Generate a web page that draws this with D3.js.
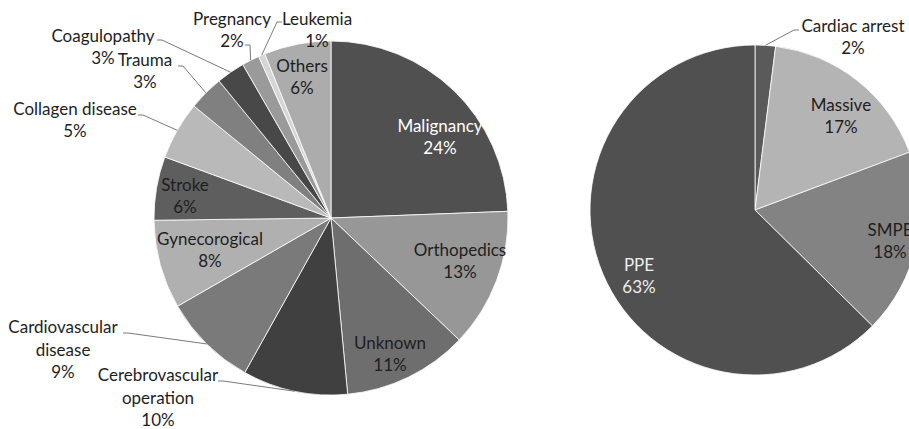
<!DOCTYPE html>
<html>
<head>
<meta charset="utf-8">
<script src="https://cdn.jsdelivr.net/npm/d3@7"></script>
<style>
  body { margin: 0; background: #fff; }
  text { font-family: Lato, "Open Sans", sans-serif; font-size: 17px; fill: #1e1e1e; }
</style>
</head>
<body>
<div id="chart"></div>
<script>
// Causes (left pie), clockwise from 12 o'clock, share in %
var causes = ["Malignancy", "Orthopedics", "Unknown", "Cerebrovascular operation",
    "Cardiovascular disease", "Gynecorogical", "Stroke", "Collagen disease",
    "Trauma", "Coagulopathy", "Pregnancy", "Leukemia", "Others"];
var causeShares = [24.4, 12.7, 11.4, 9.6, 8.6, 8.1, 5.8, 5.3, 3.2, 2.6, 1.6, 0.6, 6.1];

// Severity (right pie)
var types = ["Cardiac arrest", "Massive", "SMPE", "PPE"];
var typeShares = [2.0, 17.3, 18.1, 62.6];

// greys
var causeColors = ["#505050", "#979797", "#6e6e6e", "#404040", "#7a7a7a", "#b0b0b0",
    "#5e5e5e", "#b9b9b9", "#808080", "#484848", "#9a9a9a", "#d6d6d6", "#acacac"];
var typeColors = ["#5a5a5a", "#b4b4b4", "#838383", "#505050"];

// label text: lines, offset from pie centre, optional leader start, text colour
var causeLabels = {
    "Malignancy": { lines: ["Malignancy"], at: [109, -81], fill: "#fff" },
    "Orthopedics": { lines: ["Orthopedics"], at: [129, 43] },
    "Unknown": { lines: ["Unknown"], at: [59, 136] },
    "Cerebrovascular operation": { lines: ["Cerebrovascular", "operation"], at: [-173, 180], lead: [-113, 163] },
    "Cardiovascular disease": { lines: ["Cardiovascular", "disease"], at: [-268, 132], lead: [-208, 115] },
    "Gynecorogical": { lines: ["Gynecorogical"], at: [-121, 32] },
    "Stroke": { lines: ["Stroke"], at: [-146, -22] },
    "Collagen disease": { lines: ["Collagen disease"], at: [-256, -98], lead: [-193, -103] },
    "Trauma": { lines: ["Trauma"], at: [-186, -147], lead: [-153, -152] },
    "Coagulopathy": { lines: ["Coagulopathy"], at: [-228, -171], lead: [-174, -178] },
    "Pregnancy": { lines: ["Pregnancy"], at: [-99, -188], lead: [-86, -173] },
    "Leukemia": { lines: ["Leukemia"], at: [-14, -188], lead: [-49, -196], leftSide: true },
    "Others": { lines: ["Others"], at: [-29, -141] }
};
var typeLabels = {
    "Cardiac arrest": { lines: ["Cardiac arrest"], at: [98, -173], lead: [44, -180], leftSide: true },
    "Massive": { lines: ["Massive"], at: [86, -94] },
    "SMPE": { lines: ["SMPE"], at: [135, 31] },
    "PPE": { lines: ["PPE"], at: [-116, 66], fill: "#eee" }
};

var width = 909, height = 429;

var svg = d3.select("#chart")
    .append("svg")
        .attr("width", width)
        .attr("height", height);

function drawPie(names, values, colors, labels, cx, cy, r) {
    var total = d3.sum(values);
    var pie = d3.pie().sort(null).value(function(d) { return d.value; });
    var arcs = pie(names.map(function(n, i) { return { name: n, value: values[i], color: colors[i] }; }));

    var arc = d3.arc().innerRadius(0).outerRadius(r);
    var rim = d3.arc().innerRadius(r).outerRadius(r);

    var g = svg.append("g")
        .attr("transform", "translate(" + cx + "," + cy + ")");

    g.selectAll("path.slice")
        .data(arcs)
        .enter().append("path")
        .attr("class", "slice")
        .attr("d", arc)
        .attr("fill", function(d) { return d.data.color; })
        .attr("stroke", "#fff")
        .attr("stroke-width", 0.8);

    var lineH = 22.5;

    arcs.forEach(function(d) {
        var lab = labels[d.data.name];
        var pct = Math.round(d.data.value / total * 100) + "%";
        var lines = lab.lines.concat([pct]);
        var y0 = lab.at[1] - (lines.length - 1) * lineH / 2;

        // leader line: short horizontal tick, then to the rim
        if (lab.lead) {
            var p = rim.centroid(d);
            var s = lab.lead;
            var tick = lab.leftSide ? -5 : 5;
            g.append("polyline")
                .attr("points", [s, [s[0] + tick, s[1]], p].map(function(q) { return q.join(","); }).join(" "))
                .attr("fill", "none")
                .attr("stroke", "#7a7a7a")
                .attr("stroke-width", 1);
        }

        var t = g.append("text")
            .attr("text-anchor", "middle")
            .style("fill", lab.fill || null);
        lines.forEach(function(ln, i) {
            t.append("tspan")
                .attr("x", lab.at[0])
                .attr("y", y0 + i * lineH)
                .attr("dy", "0.35em")
                .text(ln);
        });
    });
}

drawPie(causes, causeShares, causeColors, causeLabels, 331, 218, 177);
drawPie(types, typeShares, typeColors, typeLabels, 755, 210, 165);
</script>
</body>
</html>
